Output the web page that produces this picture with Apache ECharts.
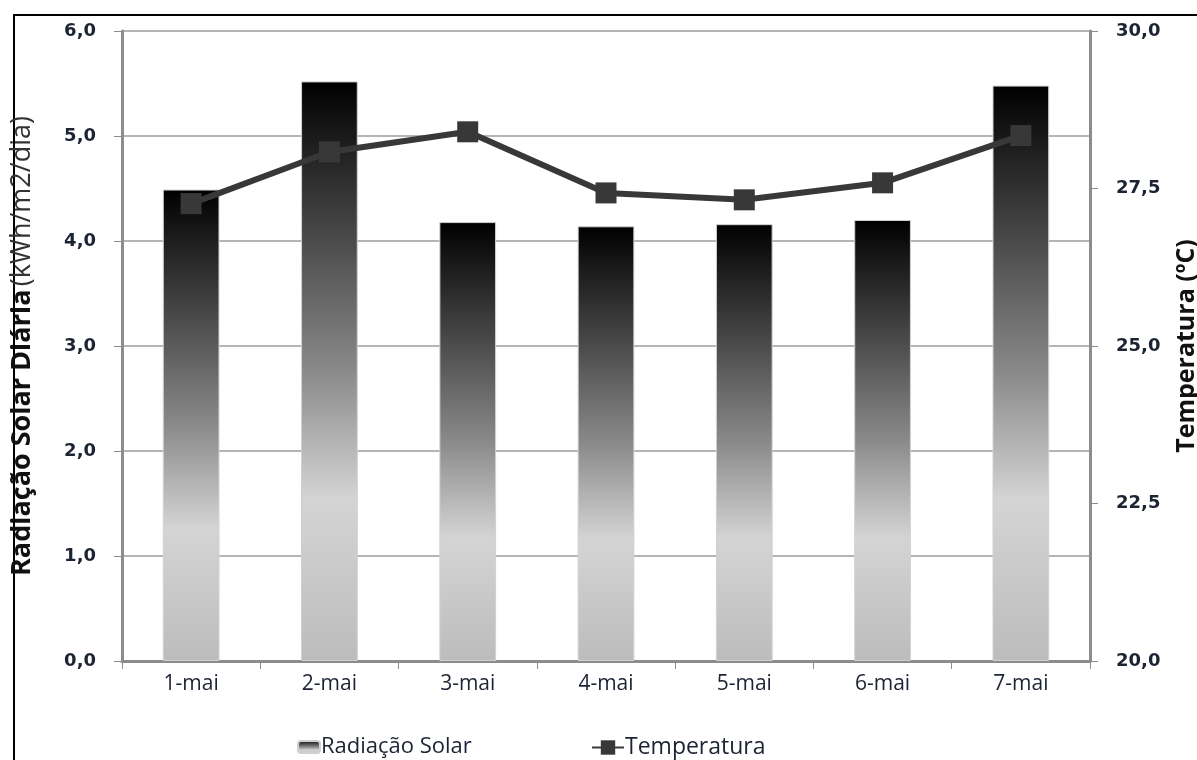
<!DOCTYPE html>
<html>
<head>
<meta charset="utf-8">
<script src="https://cdn.jsdelivr.net/npm/echarts@6/dist/echarts.min.js"></script>
<style>
  html, body { margin: 0; padding: 0; background: #fff; }
  #chart { width: 1197px; height: 760px; }
</style>
</head>
<body>
<div id="chart"></div>
<script>
// dados
const days = ['1-mai', '2-mai', '3-mai', '4-mai', '5-mai', '6-mai', '7-mai'];
const radiacao = [4.49, 5.52, 4.18, 4.14, 4.16, 4.20, 5.48];
const temperatura = [27.26, 28.08, 28.40, 27.43, 27.32, 27.59, 28.34];

const comma = v => v.toFixed(1).replace('.', ',');
const labelColor = '#1c2333';
const axisGray = '#8c8c8c';

const barGradient = new echarts.graphic.LinearGradient(0, 0, 0, 1, [
  { offset: 0, color: '#000000' },
  { offset: 0.25, color: '#444444' },
  { offset: 0.5, color: '#8a8a8a' },
  { offset: 0.72, color: '#d4d4d4' },
  { offset: 1, color: '#bcbcbc' }
]);

const chart = echarts.init(document.getElementById('chart'));

const option = {
  backgroundColor: '#fff',
  animation: false,
  graphic: [{
    type: 'rect',
    z: -1,
    shape: { x: 14, y: 15, width: 1400, height: 1000 },
    style: { fill: 'none', stroke: '#000', lineWidth: 2 }
  }],
  grid: { left: 122, right: 107, top: 31, bottom: 99, outerBoundsMode: 'none' },
  legend: [{
    data: ['Radiação Solar'],
    left: 292,
    top: 731,
    itemWidth: 22,
    itemHeight: 12,
    textStyle: { fontFamily: 'Open Sans', fontSize: 22, color: labelColor, padding: [0, 0, 0, -4] }
  }, {
    data: ['Temperatura'],
    left: 586,
    top: 731,
    itemWidth: 32,
    itemHeight: 18,
    textStyle: { fontFamily: 'Open Sans', fontSize: 23, color: labelColor, padding: [0, 0, 0, -4] }
  }],
  xAxis: {
    type: 'category',
    data: days,
    axisLine: { lineStyle: { color: axisGray, width: 3 } },
    axisTick: { show: true, length: 8, lineStyle: { color: axisGray, width: 1 } },
    axisLabel: { margin: 13, fontFamily: 'Open Sans', fontSize: 21, color: labelColor }
  },
  yAxis: [{
    type: 'value',
    min: 0,
    max: 6,
    interval: 1,
    name: '{b|Radiação Solar Diária} {r|(kWh/m2/dia)}',
    nameLocation: 'middle',
    nameRotate: 90,
    nameGap: 86,
    nameTextStyle: {
      rich: {
        b: { fontFamily: 'Open Sans', fontSize: 27, fontWeight: 'bold', color: '#111' },
        r: { fontFamily: 'Open Sans', fontSize: 27, color: '#333' }
      }
    },
    axisLine: { show: true, lineStyle: { color: axisGray, width: 3 } },
    axisTick: { show: true, length: 8, lineStyle: { color: axisGray } },
    axisLabel: {
      margin: 26,
      formatter: comma,
      fontFamily: 'DejaVu Sans',
      fontWeight: 'bold',
      fontSize: 18,
      color: labelColor
    },
    splitLine: { lineStyle: { color: '#b5b5b5', width: 2 } }
  }, {
    type: 'value',
    min: 20,
    max: 30,
    interval: 2.5,
    position: 'right',
    name: 'Temperatura (ºC)',
    nameLocation: 'middle',
    nameRotate: 90,
    nameGap: 84,
    nameTextStyle: { fontFamily: 'Open Sans', fontSize: 25, fontWeight: 'bold', color: '#111' },
    axisLine: { show: true, lineStyle: { color: axisGray, width: 3 } },
    axisTick: { show: true, length: 8, lineStyle: { color: axisGray } },
    axisLabel: {
      margin: 26,
      formatter: comma,
      fontFamily: 'DejaVu Sans',
      fontWeight: 'bold',
      fontSize: 18,
      color: labelColor
    },
    splitLine: { show: false }
  }],
  series: [{
    name: 'Radiação Solar',
    type: 'bar',
    data: radiacao,
    barWidth: '41%',
    itemStyle: { color: barGradient, borderColor: '#d0d0d0', borderWidth: 1 }
  }, {
    name: 'Temperatura',
    type: 'line',
    yAxisIndex: 1,
    data: temperatura,
    symbol: 'rect',
    symbolSize: 21,
    lineStyle: { color: '#383838', width: 6 },
    itemStyle: { color: '#383838' }
  }]
};

chart.setOption(option);
</script>
</body>
</html>
